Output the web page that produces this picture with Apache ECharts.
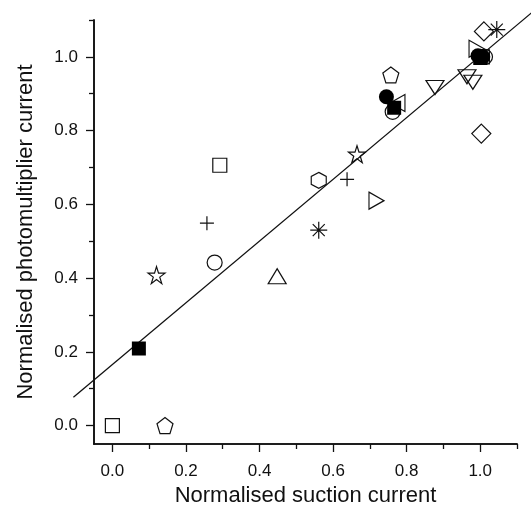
<!DOCTYPE html>
<html>
<head>
<meta charset="utf-8">
<script src="https://cdn.jsdelivr.net/npm/echarts@6/dist/echarts.min.js"></script>
<style>
html,body{margin:0;padding:0;background:#fff;}
#chart{width:531px;height:517px;}
</style>
</head>
<body>
<div id="chart"></div>
<script>
// ---- data ----
const openSquare    = [[0.0, 0.0], [0.292, 0.706], [1.006, 1.0]];
const filledSquare  = [[0.072, 0.209], [0.766, 0.862], [1.0, 0.997]];
const openCircle    = [[0.278, 0.442], [0.762, 0.851], [1.013, 1.0]];
const filledCircle  = [[0.745, 0.892], [0.994, 1.003], [1.007, 1.0]];
const openPentagon  = [[0.143, 0.0], [0.757, 0.951]];
const openStar      = [[0.12, 0.408], [0.665, 0.736]];
const plusMark      = [[0.257, 0.549], [0.638, 0.668]];
const triangleUp    = [[0.448, 0.405]];
const openHexagon   = [[0.561, 0.665]];
const asteriskMark  = [[0.561, 0.53], [1.045, 1.074]];
const triangleRight = [[0.718, 0.61], [0.99, 1.022]];
const triangleLeft  = [[0.775, 0.875]];
const triangleDown  = [[0.877, 0.917], [0.964, 0.946], [0.98, 0.931]];
const openDiamond   = [[1.01, 1.069], [1.003, 0.792]];
const fitLineStart  = [-0.106, 0.077];
const fitLineEnd    = [1.14, 1.12];

const majorTicks = [0.0, 0.2, 0.4, 0.6, 0.8, 1.0];
const minorTicks = [0.1, 0.3, 0.5, 0.7, 0.9, 1.1];
const axisMin = -0.05, axisMax = 1.1;

// ---- styling ----
const INK = '#111111';
const FONT = 'Liberation Sans, Arial, Helvetica, sans-serif';
const SYM = {
  pentagon: 'path://M0,-1 L0.951,-0.309 L0.588,0.809 L-0.588,0.809 L-0.951,-0.309 Z',
  hexagon: 'path://M0,-1 L0.866,-0.5 L0.866,0.5 L0,1 L-0.866,0.5 L-0.866,-0.5 Z',
  star: 'path://M0,-1 L0.2245,-0.309 L0.951,-0.309 L0.3633,0.118 L0.5878,0.809 L0,0.382 L-0.5878,0.809 L-0.3633,0.118 L-0.951,-0.309 L-0.2245,-0.309 Z',
  plus: 'path://M-1,0 L1,0 M0,-1 L0,1',
  asterisk: 'path://M-1,0 L1,0 M0,-1 L0,1 M-0.707,-0.707 L0.707,0.707 M-0.707,0.707 L0.707,-0.707',
  triUp: 'path://M0,-1 L1,1 L-1,1 Z',
  triDown: 'path://M-1,-1 L1,-1 L0,1 Z',
  triRight: 'path://M-1,-1 L1,0 L-1,1 Z',
  triLeft: 'path://M1,-1 L-1,0 L1,1 Z',
  diamond: 'path://M0,-1 L1,0 L0,1 L-1,0 Z'
};

function scatter(name, data, symbol, size, filled) {
  return {
    name: name, type: 'scatter', data: data, symbol: symbol, symbolSize: size,
    xAxisIndex: 0, yAxisIndex: 0, z: 3,
    itemStyle: {
      color: filled ? '#000000' : 'rgba(0,0,0,0)',
      borderColor: INK,
      borderWidth: filled ? 0 : 1.2,
      opacity: 1
    },
    emphasis: { disabled: true }
  };
}

function makeAxis(ticks, len, withLabels, margin, extra) {
  const ax = {
    type: 'value', min: axisMin, max: axisMax, gridIndex: 0,
    axisLine: { show: true, onZero: false, lineStyle: { color: INK, width: 1.6 } },
    axisTick: { show: true, inside: false, length: len, customValues: ticks,
                lineStyle: { color: INK, width: 1.3 } },
    axisLabel: { show: withLabels, customValues: ticks, color: INK,
                 fontFamily: FONT, fontSize: 17, margin: margin,
                 formatter: function (v) { return Number(v).toFixed(1); } },
    splitLine: { show: false },
    minorTick: { show: false }
  };
  return Object.assign(ax, extra || {});
}

const chart = echarts.init(document.getElementById('chart'), null, { renderer: 'canvas' });
chart.setOption({
  backgroundColor: '#ffffff',
  animation: false,
  grid: { left: 94, right: 14, top: 20, bottom: 73 },
  xAxis: [
    makeAxis(majorTicks, 8, true, 19, {
      position: 'bottom',
      name: 'Normalised suction current', nameLocation: 'middle', nameGap: 41,
      nameTextStyle: { fontFamily: FONT, fontSize: 22, color: INK }
    }),
    makeAxis(minorTicks, 5, false, 8, { position: 'bottom' })
  ],
  yAxis: [
    makeAxis(majorTicks, 8, true, 16, {
      position: 'left',
      name: 'Normalised photomultiplier current', nameLocation: 'middle', nameGap: 57,
      nameRotate: 90,
      nameTextStyle: { fontFamily: FONT, fontSize: 22, color: INK }
    }),
    makeAxis(minorTicks, 5, false, 8, { position: 'left' })
  ],
  series: [
    {
      name: 'fit', type: 'custom', clip: false, z: 2,
      xAxisIndex: 0, yAxisIndex: 0,
      data: [[fitLineStart[0], fitLineStart[1], fitLineEnd[0], fitLineEnd[1]]],
      encode: { x: [0, 2], y: [1, 3] },
      renderItem: function (params, api) {
        const p0 = api.coord([api.value(0), api.value(1)]);
        const p1 = api.coord([api.value(2), api.value(3)]);
        return {
          type: 'line',
          shape: { x1: p0[0], y1: p0[1], x2: p1[0], y2: p1[1] },
          style: { stroke: INK, lineWidth: 1.3 }
        };
      },
      emphasis: { disabled: true }, silent: true
    },
    scatter('openSquare', openSquare, 'rect', 14, false),
    scatter('openCircle', openCircle, 'circle', 15, false),
    scatter('openPentagon', openPentagon, SYM.pentagon, 16, false),
    scatter('openStar', openStar, SYM.star, 17, false),
    scatter('plus', plusMark, SYM.plus, 14, false),
    scatter('triangleUp', triangleUp, SYM.triUp, [18, 15], false),
    scatter('hexagon', openHexagon, SYM.hexagon, [15, 16], false),
    scatter('asterisk', asteriskMark, SYM.asterisk, 17, false),
    scatter('triangleRight', triangleRight, SYM.triRight, [15, 17], false),
    scatter('triangleLeft', triangleLeft, SYM.triLeft, [15, 17], false),
    scatter('triangleDown', triangleDown, SYM.triDown, [18, 14], false),
    scatter('diamond', openDiamond, SYM.diamond, 19, false),
    scatter('filledSquare', filledSquare, 'rect', 14, true),
    scatter('filledCircle', filledCircle, 'circle', 15, true)
  ]
});
</script>
</body>
</html>
